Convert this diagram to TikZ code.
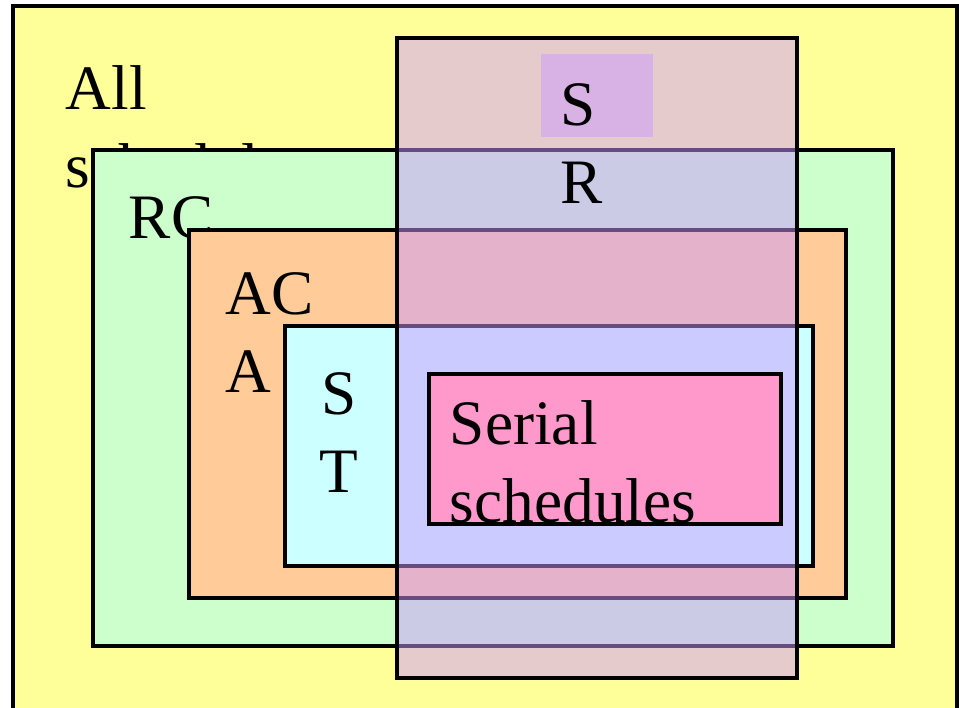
\documentclass[tikz,border=0pt]{standalone}
\usepackage{fontspec}
\setmainfont{Liberation Serif}
\definecolor{allY}{HTML}{FFFF99}
\definecolor{rcG}{HTML}{CCFFCC}
\definecolor{acaO}{HTML}{FFCC99}
\definecolor{stC}{HTML}{CCFFFF}
\definecolor{serP}{HTML}{FF99CC}
\definecolor{srV}{HTML}{CC99FF}
\begin{document}
\begin{tikzpicture}[x=0.01cm,y=-0.01cm,
  setbox/.style={draw=black,line width=0.9pt},
  lbl/.style={inner sep=0pt,outer sep=0pt,font=\fontsize{18}{22}\selectfont,align=left}]
\useasboundingbox (0,0) rectangle (959,708);
\clip (0,0) rectangle (959,708);
\fill[white] (0,0) rectangle (959,708);

% all schedules (the base anchor of a two-line label sits on its last line)
\path[setbox,fill=allY] (13,6) rectangle (957,730);
\node[lbl,anchor=base west] (all) at (66,187) {All\\schedules};

% recoverable
\path[setbox,fill=rcG] (93,150) rectangle (893,646);
\node[lbl,anchor=base west] (rc) at (129,238) {RC};

% avoids cascading aborts
\path[setbox,fill=acaO] (189,230) rectangle (846,598);
\node[lbl,anchor=base west] (aca) at (226,392) {AC\\A};

% strict
\path[setbox,fill=stC] (285,326) rectangle (813,566);
\node[lbl,anchor=base,align=center] (st) at (339,492) {S\\T};

% serializable (translucent)
\path[setbox,fill=srV,fill opacity=0.5] (397,38) rectangle (797,678);
\fill[srV,opacity=0.5] (541,54) rectangle (653,137);
\node[lbl,anchor=base west] (sr) at (561,203) {S\\R};

% serial
\path[setbox,fill=serP] (429,374) rectangle (781,524);
\node[lbl,anchor=base west] (ser) at (450,522) {Serial\\schedules};
\draw[line width=0.9pt] (429,524) -- (781,524);
\end{tikzpicture}
\end{document}
